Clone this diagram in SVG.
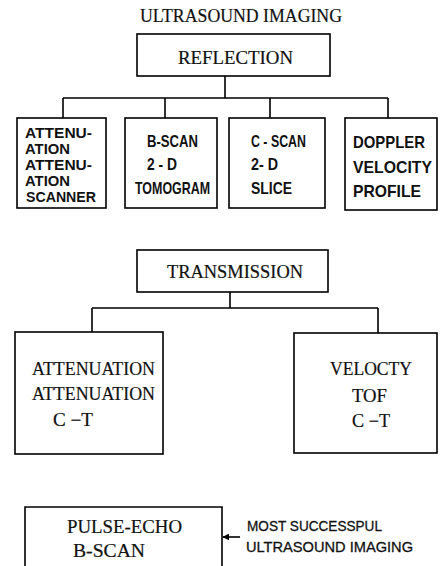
<svg xmlns="http://www.w3.org/2000/svg" width="440" height="566" viewBox="0 0 440 566">
<defs>
<style>
.box{fill:none;stroke:#000;stroke-width:1.6}
.ln{fill:none;stroke:#000;stroke-width:1.6}
.sf{font-family:"Liberation Serif","DejaVu Serif",serif;fill:#111;stroke:#111;stroke-width:0.2}
.ss{font-family:"Liberation Sans","DejaVu Sans",sans-serif;font-weight:bold;fill:#111}
.nt{font-family:"Liberation Sans","DejaVu Sans",sans-serif;fill:#111;stroke:#111;stroke-width:0.3}
</style>
<marker id="ah" viewBox="0 0 10 10" refX="9" refY="5" markerWidth="7" markerHeight="7" orient="auto" markerUnits="userSpaceOnUse">
<path d="M0,0 L10,5 L0,10 z" fill="#000"/>
</marker>
</defs>
<rect width="440" height="566" fill="#fff"/>
<g id="title"><text class="sf" x="140" y="22" font-size="18" textLength="202" lengthAdjust="spacingAndGlyphs">ULTRASOUND IMAGING</text></g>
<g id="reflection">
<rect class="box" x="137" y="34" width="193" height="42"/>
<text class="sf" x="178" y="64" font-size="18" textLength="115" lengthAdjust="spacingAndGlyphs">REFLECTION</text>
</g>
<g id="attenuation-scanner">
<rect class="box" x="17" y="118" width="89" height="90"/>
<g class="ss" font-size="14">
<text x="25" y="138" textLength="67" lengthAdjust="spacingAndGlyphs">ATTENU-</text>
<text x="25" y="154" textLength="45" lengthAdjust="spacingAndGlyphs">ATION</text>
<text x="25" y="170" textLength="67" lengthAdjust="spacingAndGlyphs">ATTENU-</text>
<text x="25" y="186" textLength="45" lengthAdjust="spacingAndGlyphs">ATION</text>
<text x="26" y="202" textLength="70" lengthAdjust="spacingAndGlyphs">SCANNER</text>
</g>
</g>
<g id="b-scan">
<rect class="box" x="125" y="118" width="92" height="90"/>
<g class="ss" font-size="17">
<text x="147" y="147" textLength="51" lengthAdjust="spacingAndGlyphs">B-SCAN</text>
<text x="147" y="170" textLength="30" lengthAdjust="spacingAndGlyphs">2 - D</text>
<text x="135" y="194" textLength="75" lengthAdjust="spacingAndGlyphs">TOMOGRAM</text>
</g>
</g>
<g id="c-scan">
<rect class="box" x="229" y="118" width="96" height="90"/>
<g class="ss" font-size="17">
<text x="251" y="147" textLength="55" lengthAdjust="spacingAndGlyphs">C - SCAN</text>
<text x="251" y="170" textLength="27" lengthAdjust="spacingAndGlyphs">2- D</text>
<text x="251" y="194" textLength="41" lengthAdjust="spacingAndGlyphs">SLICE</text>
</g>
</g>
<g id="doppler">
<rect class="box" x="345" y="118" width="92" height="92"/>
<g class="ss" font-size="17">
<text x="353" y="148" textLength="72" lengthAdjust="spacingAndGlyphs">DOPPLER</text>
<text x="353" y="173" textLength="79" lengthAdjust="spacingAndGlyphs">VELOCITY</text>
<text x="353" y="197" textLength="68" lengthAdjust="spacingAndGlyphs">PROFILE</text>
</g>
</g>
<g id="transmission">
<rect class="box" x="137" y="250" width="191" height="42"/>
<text class="sf" x="167" y="278" font-size="18" textLength="136" lengthAdjust="spacingAndGlyphs">TRANSMISSION</text>
</g>
<g id="attenuation-ct">
<rect class="box" x="15" y="332" width="148" height="122"/>
<g class="sf" font-size="18">
<text x="32" y="375" textLength="123" lengthAdjust="spacingAndGlyphs">ATTENUATION</text>
<text x="32" y="400" textLength="123" lengthAdjust="spacingAndGlyphs">ATTENUATION</text>
<text x="53" y="426" textLength="40" lengthAdjust="spacingAndGlyphs">C −T</text>
</g>
</g>
<g id="velocity-ct">
<rect class="box" x="294" y="333" width="143" height="120"/>
<g class="sf" font-size="18">
<text x="330" y="375" textLength="82" lengthAdjust="spacingAndGlyphs">VELOCTY</text>
<text x="352" y="402" textLength="35" lengthAdjust="spacingAndGlyphs">TOF</text>
<text x="352" y="427" textLength="38" lengthAdjust="spacingAndGlyphs">C −T</text>
</g>
</g>
<g id="pulse-echo">
<path class="box" d="M25,567 V507 H222 V567"/>
<g class="sf" font-size="18">
<text x="67" y="533" textLength="115" lengthAdjust="spacingAndGlyphs">PULSE-ECHO</text>
<text x="73" y="557" textLength="72" lengthAdjust="spacingAndGlyphs">B-SCAN</text>
</g>
</g>
<g id="note">
<g class="nt" font-size="15">
<text x="247" y="531" textLength="135" lengthAdjust="spacingAndGlyphs">MOST SUCCESSPUL</text>
<text x="246" y="552" textLength="167" lengthAdjust="spacingAndGlyphs">ULTRASOUND IMAGING</text>
</g>
</g>
<g id="connectors">
<path class="ln" d="M225,76 V98 M63,98 H388 M63,98 V118 M165,98 V118 M270,98 V118 M388,98 V118"/>
<path class="ln" d="M230,292 V308 M92,308 H378 M92,308 V332 M378,308 V333"/>
<line class="ln" x1="240" y1="537" x2="223" y2="537" stroke-width="2.2" marker-end="url(#ah)"/>
</g>
</svg>
